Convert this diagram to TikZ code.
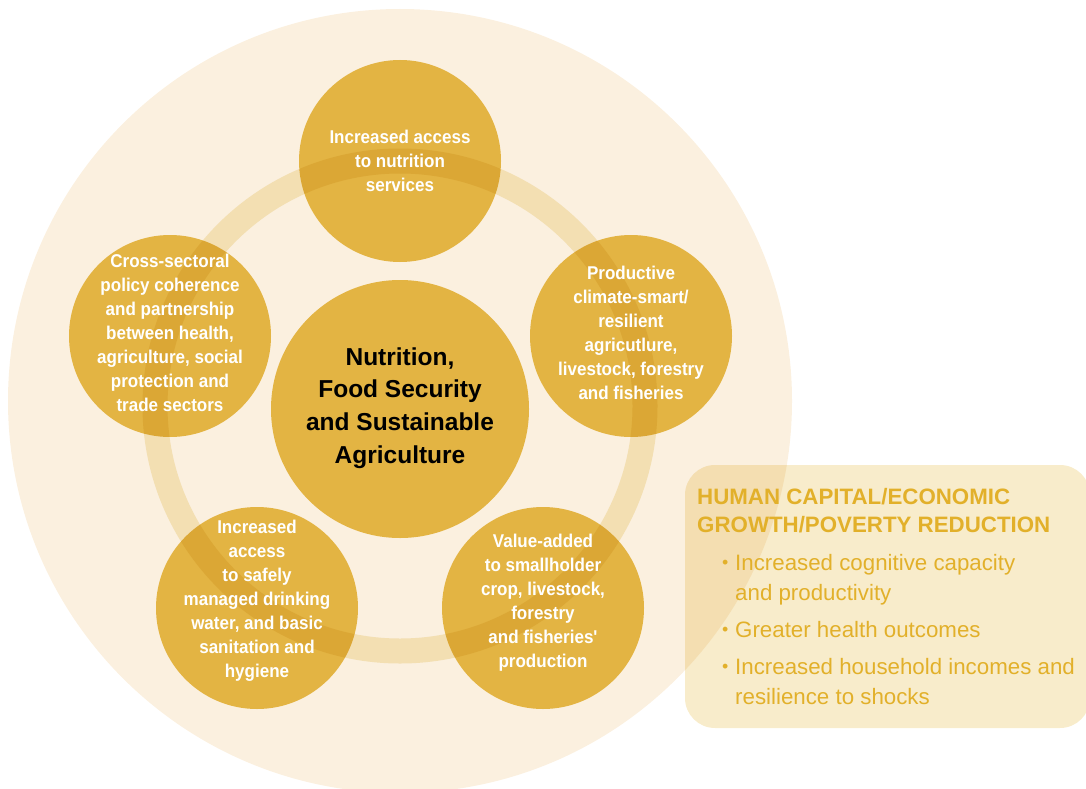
\documentclass[tikz,border=0pt]{standalone}
\usepackage{fontspec}
\setmainfont{Liberation Sans}
\newfontfamily\narrowfont[FakeStretch=0.92]{Liberation Sans}
\usepackage{tikz}
\usetikzlibrary{positioning}

\definecolor{bgdisc}{HTML}{FBF0DF}
\definecolor{ringtint}{HTML}{F7EDCC}
\definecolor{petal}{HTML}{E3B443}
\definecolor{boxtint}{HTML}{F8ECCB}
\definecolor{boxtext}{HTML}{E2B02A}

\newcommand{\outbullet}{\makebox[13pt][l]{\raisebox{1.5pt}{\scalebox{0.8}{\textbullet}}}}

\begin{document}
\begin{tikzpicture}[x=1pt,y=-1pt]
        % Setup the styles for the discs and their texts
        \tikzset{disc style/.style={circle,
                                    minimum size=202pt,
                                    inner sep=0pt,
                                    fill=petal},
                 hub style/.style={disc style,
                                    minimum size=258pt},
                 petal text/.style={align=center,
                                    inner sep=0pt,
                                    text=white,
                                    font=\narrowfont\bfseries\fontsize{18.5pt}{24pt}\selectfont},
                 hub text/.style={align=center,
                                    inner sep=0pt,
                                    text=black,
                                    font=\bfseries\fontsize{24.5pt}{32.7pt}\selectfont},
                 box text/.style={align=left,
                                    inner sep=0pt,
                                    text=boxtext}}

        \useasboundingbox (0,0) rectangle (1086,789);

        % Draw the background disc and the outcome box
        \fill[bgdisc] (400,401) circle[radius=392pt];
        \begin{scope}[blend mode=multiply]
            \fill[boxtint, rounded corners=30pt] (685,465) rectangle (1090,728);
        \end{scope}

        % Draw the discs
        \node[hub style]  at (400, 409) (hub)   {};
        \node[disc style] at (400, 161) (top)   {};
        \node[disc style] at (631, 336) (right) {};
        \node[disc style] at (543, 608) (bright) {};
        \node[disc style] at (257, 608) (bleft) {};
        \node[disc style] at (170, 336) (left)  {};

        % Draw the ring through the discs
        \begin{scope}[blend mode=multiply]
            \draw[ringtint, line width=25pt] (400,406) circle[radius=245pt];
        \end{scope}

        % Write the texts
        \node[hub text]   at ([yshift=1pt]hub) (hubtext) {Nutrition,\\Food Security\\and Sustainable\\Agriculture};
        \node[petal text] at (top)   (toptext)   {Increased access\\to nutrition\\services};
        \node[petal text] at ([yshift=3pt]right) (righttext) {Productive\\climate-smart/\\resilient\\agricutlure,\\livestock, forestry\\and fisheries};
        \node[petal text] at ([yshift=5pt]bright) (brighttext) {Value-added\\to smallholder\\crop, livestock,\\forestry\\and fisheries'\\production};
        \node[petal text] at ([yshift=7pt]bleft)  (blefttext)  {Increased\\access\\to safely\\managed drinking\\water, and basic\\sanitation and\\hygiene};
        \node[petal text] at ([yshift=3pt]left)   (lefttext)   {Cross-sectoral\\policy coherence\\and partnership\\between health,\\agriculture, social\\protection and\\trade sectors};

        % Write the outcome box
        \node[box text, anchor=north west,
              font=\bfseries\fontsize{22.3pt}{28pt}\selectfont]
            at (697, 488) (heading) {HUMAN CAPITAL/ECONOMIC\\GROWTH/POVERTY REDUCTION};
        \node[box text, below right=21pt and 25pt of heading.south west,
              font=\fontsize{22.3pt}{30pt}\selectfont]
            (outcomes) {\outbullet Increased cognitive capacity\\
                        \hspace*{13pt}and productivity\\[7pt]
                        \outbullet Greater health outcomes\\[7pt]
                        \outbullet Increased household incomes and\\
                        \hspace*{13pt}resilience to shocks};
\end{tikzpicture}
\end{document}
